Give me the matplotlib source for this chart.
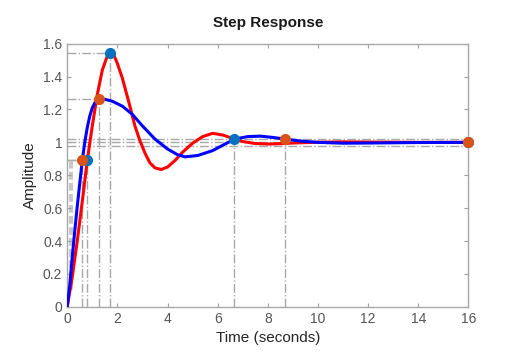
# step response of two systems, with peak / rise / settling markers
import matplotlib.pyplot as plt

plt.rcParams['font.family'] = ['Liberation Sans', 'DejaVu Sans']

# red system
t_red = [0, 0.2, 0.4, 0.6, 0.8, 1.0, 1.2, 1.4, 1.6, 1.72, 1.85, 2.0, 2.2, 2.5, 2.7, 2.9,
         3.1, 3.3, 3.5, 3.75, 4.0, 4.3, 4.6, 5.0, 5.4, 5.8, 6.2, 6.67, 7.0, 7.5, 8.0,
         8.5, 9.0, 10, 11, 12, 14, 16]
y_red = [0, 0.18, 0.40, 0.64, 0.89, 1.10, 1.29, 1.44, 1.525, 1.545, 1.535, 1.48, 1.39,
         1.22, 1.10, 1.01, 0.935, 0.875, 0.845, 0.835, 0.85, 0.89, 0.94, 0.995, 1.035,
         1.055, 1.045, 1.02, 1.005, 0.993, 0.99, 0.992, 0.996, 1.001, 1.003, 1.002, 1.0, 1.0]

# blue system
t_blue = [0, 0.1, 0.2, 0.3, 0.4, 0.5, 0.6, 0.7, 0.8, 0.9, 1.0, 1.1, 1.2, 1.28, 1.5, 1.8,
          2.2, 2.6, 3.0, 3.5, 4.0, 4.4, 4.7, 5.2, 5.8, 6.3, 6.67, 7.2, 7.7, 8.2, 8.7,
          9.3, 10, 11, 12, 14, 16]
y_blue = [0, 0.13, 0.30, 0.46, 0.61, 0.75, 0.89, 1.0, 1.09, 1.16, 1.21, 1.24, 1.26, 1.265,
          1.262, 1.25, 1.22, 1.17, 1.10, 1.02, 0.96, 0.925, 0.912, 0.92, 0.95, 0.99, 1.02,
          1.035, 1.038, 1.03, 1.02, 1.008, 1.0, 0.995, 0.996, 0.999, 1.0]

# characteristics: (time, value)
peak_red = (1.72, 1.545)
peak_blue = (1.28, 1.265)
rise_red = (0.8, 0.89)
rise_blue = (0.6, 0.89)
settle_red = (6.67, 1.02)
settle_blue = (8.7, 1.02)
final_value = 1.0
t_end = 16
rise_start = [0.12, 0.2]

c_blue = '#0072BD'
c_orange = '#D95319'
ref = dict(color='#A8A8A8', linestyle='-.', linewidth=1, zorder=1)

fig = plt.figure(figsize=(5.17, 3.64), dpi=100)
ax = fig.add_axes([0.130, 0.157, 0.776, 0.723])

# reference lines
for (tp, yp) in [peak_red, peak_blue, rise_red, rise_blue]:
    ax.plot([0, tp], [yp, yp], **ref)
    ax.plot([tp, tp], [0, yp], **ref)
for tp, yp in [settle_red, settle_blue]:
    ax.plot([tp, tp], [0, yp], **ref)
for yl in [1.02, 0.98, final_value]:
    ax.plot([0, t_end], [yl, yl], **ref)
for tr in rise_start:
    ax.plot([tr, tr], [0.1, 0.9], color='#C8C8C8', linestyle='--', linewidth=1.5, zorder=1)

ax.plot(t_red, y_red, color='red', linewidth=2.2, zorder=3)
ax.plot(t_blue, y_blue, color='blue', linewidth=2.2, zorder=3)

# markers
ms = 7
ax.plot(*peak_red, 'o', color=c_blue, markersize=ms, zorder=5, clip_on=False)
ax.plot(*peak_blue, 'o', color=c_orange, markersize=ms, zorder=5, clip_on=False)
ax.plot(*rise_red, 'o', color=c_blue, markersize=ms, zorder=5, clip_on=False)
ax.plot(*rise_blue, 'o', color=c_orange, markersize=ms, zorder=5, clip_on=False)
ax.plot(*settle_red, 'o', color=c_blue, markersize=ms, zorder=5, clip_on=False)
ax.plot(*settle_blue, 'o', color=c_orange, markersize=ms, zorder=5, clip_on=False)
ax.plot(t_end, final_value, 'o', color=c_blue, markersize=ms, zorder=5, clip_on=False)
ax.plot(t_end, final_value, 'o', color=c_orange, markersize=ms, zorder=6, clip_on=False)

ax.set_xlim(0, 16)
ax.set_ylim(0, 1.6)
ax.set_xticks(range(0, 17, 2))
ax.set_yticks([0, 0.2, 0.4, 0.6, 0.8, 1, 1.2, 1.4, 1.6])
ax.set_yticklabels(['0', '0.2', '0.4', '0.6', '0.8', '1', '1.2', '1.4', '1.6'])
ax.tick_params(direction='in', top=True, right=True, length=3, width=0.8,
               color='#A0A0A0', labelcolor='#555555', labelsize=10)
for s in ax.spines.values():
    s.set_color('#A8A8A8')
    s.set_linewidth(1)

ax.set_title('Step Response', fontsize=11, fontweight='bold', color='#1a1a1a', pad=12)
ax.set_xlabel('Time (seconds)', fontsize=11, color='#262626')
ax.set_ylabel('Amplitude', fontsize=11, color='#262626')

fig.savefig('out.png', dpi=100)
